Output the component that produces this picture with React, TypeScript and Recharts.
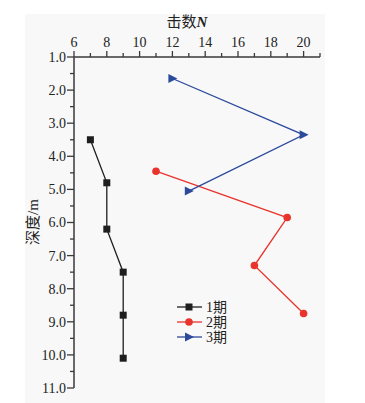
import React from 'react';
import { ScatterChart, Scatter, XAxis, YAxis } from 'recharts';

// 击数 N (x) vs 深度 (y), three survey periods
const period1N = [7, 8, 8, 9, 9, 9];
const period1Depth = [3.5, 4.8, 6.2, 7.5, 8.8, 10.1];
const period2N = [11, 19, 17, 20];
const period2Depth = [4.45, 5.85, 7.3, 8.75];
const period3N = [12, 20, 13];
const period3Depth = [1.65, 3.35, 5.05];

const seriesNames = ['1期', '2期', '3期'];
const xTicks = [6, 7, 8, 9, 10, 11, 12, 13, 14, 15, 16, 17, 18, 19, 20, 21];
const yTicks = [1, 1.5, 2, 2.5, 3, 3.5, 4, 4.5, 5, 5.5, 6, 6.5, 7, 7.5, 8, 8.5, 9, 9.5, 10, 10.5, 11];

const COLORS = ['#1e1e1e', '#e8342c', '#2b4a9c'];
const AXIS = '#3a3a3a';
const FONT = '"Liberation Serif", "Noto Sans CJK SC", serif';

const toPoints = (xs: number[], ys: number[]) => xs.map((n, i) => ({ n, depth: ys[i] }));

const data1 = toPoints(period1N, period1Depth);
const data2 = toPoints(period2N, period2Depth);
const data3 = toPoints(period3N, period3Depth);

const Square = ({ cx, cy, fill }: any) => <rect x={cx - 3.5} y={cy - 3.5} width={7} height={7} fill={fill} />;
const Dot = ({ cx, cy, fill }: any) => <circle cx={cx} cy={cy} r={3.8} fill={fill} />;
const RightTri = ({ cx, cy, fill }: any) => (
  <path d={`M${cx + 5},${cy} L${cx - 4},${cy - 4.5} L${cx - 4},${cy + 4.5} Z`} fill={fill} />
);

const XTick = (props: any) => {
  const { x, y, payload } = props;
  const v = payload.value;
  const major = v % 2 === 0 && v <= 20;
  return (
    <g>
      <line x1={x} x2={x} y1={y} y2={y - (major ? 6 : 4)} stroke={AXIS} strokeWidth={1.3} />
      {major && (
        <text x={x} y={y - 10} textAnchor="middle" fontFamily={FONT} fontSize={14} fill="#222">
          {v}
        </text>
      )}
    </g>
  );
};

const YTick = (props: any) => {
  const { x, y, payload } = props;
  const v = payload.value;
  const major = Number.isInteger(v);
  return (
    <g>
      <line x1={x} x2={x - (major ? 7 : 4)} y1={y} y2={y} stroke={AXIS} strokeWidth={1.3} />
      {major && (
        <text x={x - 8} y={y} dy="0.35em" textAnchor="end" fontFamily={FONT} fontSize={14} fill="#222">
          {v.toFixed(1)}
        </text>
      )}
    </g>
  );
};

const LegendBox = () => {
  const shapes = [Square, Dot, RightTri];
  return (
    <svg width={80} height={50}>
      {seriesNames.map((name, i) => {
        const Shape = shapes[i];
        const cy = 8 + i * 15;
        return (
          <g key={name}>
            <line x1={2} x2={27} y1={cy} y2={cy} stroke={COLORS[i]} strokeWidth={1.3} />
            <Shape cx={14} cy={cy} fill={COLORS[i]} />
            <text x={31} y={cy} dy="0.35em" fontFamily={FONT} fontSize={14} fill="#222">
              {name}
            </text>
          </g>
        );
      })}
    </svg>
  );
};

export default function App() {
  return (
    <div style={{ position: 'absolute', left: 0, top: 0, width: 365, height: 403, background: '#fff' }}>
      <div style={{ position: 'absolute', left: 25, top: 14, width: 300, height: 389, background: '#f8f8f8' }} />
      <div style={{ position: 'absolute', left: 0, top: 0 }}>
        <ScatterChart width={365} height={403} margin={{ top: 27, right: 45, bottom: 15, left: 24 }}>
          <XAxis
            type="number"
            dataKey="n"
            orientation="top"
            domain={[6, 21]}
            ticks={xTicks}
            interval={0}
            tickSize={0}
            tickMargin={0}
            height={30}
            tick={<XTick />}
            axisLine={{ stroke: AXIS, strokeWidth: 1.5 }}
            label={{
              content: () => (
                <text x={187} y={27} textAnchor="middle" fontFamily={FONT} fontSize={15} fill="#222">
                  击数<tspan fontStyle="italic" fontWeight="bold">N</tspan>
                </text>
              ),
            }}
          />
          <YAxis
            type="number"
            dataKey="depth"
            reversed
            domain={[1, 11]}
            ticks={yTicks}
            interval={0}
            tickSize={0}
            tickMargin={0}
            width={50}
            tick={<YTick />}
            axisLine={{ stroke: AXIS, strokeWidth: 1.5 }}
            label={{
              content: () => (
                <text
                  x={33}
                  y={222}
                  textAnchor="middle"
                  fontFamily={FONT}
                  fontSize={15}
                  fill="#222"
                  transform="rotate(-90 33 222)"
                  dy="0.35em"
                >
                  深度/m
                </text>
              ),
            }}
          />
          <Scatter
            name={seriesNames[0]}
            data={data1}
            fill={COLORS[0]}
            line={{ stroke: COLORS[0], strokeWidth: 1.3 }}
            shape={<Square />}
            isAnimationActive={false}
          />
          <Scatter
            name={seriesNames[1]}
            data={data2}
            fill={COLORS[1]}
            line={{ stroke: COLORS[1], strokeWidth: 1.3 }}
            shape={<Dot />}
            isAnimationActive={false}
          />
          <Scatter
            name={seriesNames[2]}
            data={data3}
            fill={COLORS[2]}
            line={{ stroke: COLORS[2], strokeWidth: 1.3 }}
            shape={<RightTri />}
            isAnimationActive={false}
          />
        </ScatterChart>
      </div>
      <div style={{ position: 'absolute', left: 175, top: 299 }}>
        <LegendBox />
      </div>
    </div>
  );
}
